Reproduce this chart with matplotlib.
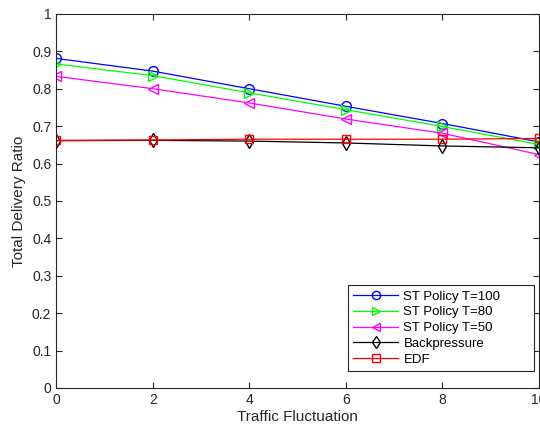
import matplotlib.pyplot as plt
import numpy as np

plt.rcParams['font.family'] = ['Liberation Sans', 'DejaVu Sans']

fluct = [0, 2, 4, 6, 8, 10]
st100 = [0.881, 0.847, 0.800, 0.753, 0.707, 0.658]
st80 = [0.866, 0.835, 0.789, 0.744, 0.699, 0.651]
st50 = [0.833, 0.800, 0.762, 0.719, 0.681, 0.624]
backp = [0.661, 0.662, 0.660, 0.655, 0.647, 0.642]
edf = [0.662, 0.663, 0.665, 0.665, 0.665, 0.667]

fig = plt.figure(figsize=(5.4, 4.34), dpi=100)
ax = fig.add_axes([0.104, 0.106, 0.894, 0.862])

lw = 0.9
ax.plot(fluct, st100, color='#0000ff', marker='o', ms=7, mfc='none', lw=lw, label='ST Policy T=100')
ax.plot(fluct, st80, color='#00ff00', marker='>', ms=7, mfc='none', lw=lw, label='ST Policy T=80')
ax.plot(fluct, st50, color='#ff00ff', marker='<', ms=7, mfc='none', lw=lw, label='ST Policy T=50')
ax.plot(fluct, backp, color='black', marker='d', ms=7, mfc='none', lw=lw, label='Backpressure')
ax.plot(fluct, edf, color='#ff0000', marker='s', ms=6, mfc='none', lw=lw, label='EDF')

ax.set_xlim(0, 10)
ax.set_ylim(0, 1)
ax.set_xticks(np.arange(0, 11, 2))
ax.set_yticks(np.arange(0, 1.01, 0.1))
ax.set_yticklabels(['0', '0.1', '0.2', '0.3', '0.4', '0.5', '0.6', '0.7', '0.8', '0.9', '1'])
ax.tick_params(direction='in', top=True, right=True, labelsize=10, length=4, colors='#262626')
for s in ax.spines.values():
    s.set_color('#262626')
    s.set_linewidth(0.8)
ax.set_xlabel('Traffic Fluctuation', fontsize=11, color='#262626', labelpad=2)
ax.set_ylabel('Total Delivery Ratio', fontsize=11, color='#262626', labelpad=4)

leg = ax.legend(loc='lower left', bbox_to_anchor=(0.6046, 0.045, 0.385, 0.3), mode='expand',
                fontsize=9.5, fancybox=False, framealpha=1, edgecolor='#262626',
                borderaxespad=0, handlelength=3.4, labelspacing=0.27, borderpad=0.4,
                handletextpad=0.4, markerscale=0.85)
leg.get_frame().set_linewidth(0.8)

fig.savefig('out.png', dpi=100)
